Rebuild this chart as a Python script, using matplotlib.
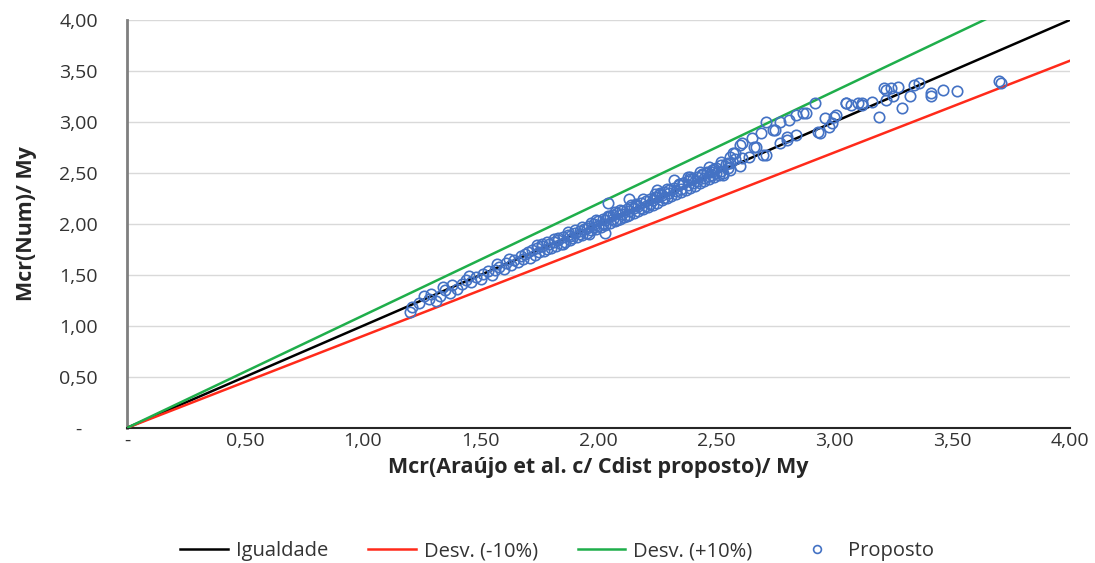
import numpy as np
import matplotlib.pyplot as plt
from matplotlib.ticker import FuncFormatter

# Reference lines (x range and slope factors)
line_x = [0.0, 4.0]
igualdade = [0.0, 4.0]
desv_menos = [0.0, 3.6]
desv_mais = [0.0, 4.4]

# "Proposto" points: Mcr(Araujo)/My vs Mcr(Num)/My
prop_x = [1.20, 1.21, 1.24, 1.28, 1.29, 1.31, 1.33, 1.35, 1.37, 1.38,
          1.40, 1.42, 1.44, 1.46, 1.48, 1.50, 1.51, 1.53, 1.55, 1.56,
          1.58, 1.60, 1.61, 1.63, 1.64, 1.66, 1.67, 1.68, 1.70, 1.71,
          1.72, 1.73, 1.74, 1.75, 1.76, 1.77, 1.78, 1.79, 1.80, 1.81,
          1.82, 1.83, 1.84, 1.85, 1.86, 1.87, 1.88, 1.89, 1.90, 1.91,
          1.92, 1.93, 1.94, 1.95, 1.96, 1.97, 1.98, 1.99, 2.00, 2.01,
          2.02, 2.03, 2.04, 2.05, 2.06, 2.07, 2.08, 2.09, 2.10, 2.11,
          2.12, 2.13, 2.14, 2.15, 2.16, 2.17, 2.18, 2.19, 2.20, 2.21,
          2.22, 2.23, 2.24, 2.25, 2.26, 2.27, 2.28, 2.29, 2.30, 2.31,
          2.32, 2.33, 2.34, 2.35, 2.36, 2.37, 2.38, 2.39, 2.40, 2.41,
          2.42, 2.43, 2.44, 2.45, 2.46, 2.47, 2.48, 2.49, 2.50, 2.51,
          2.52, 2.53, 2.55, 2.56, 2.58, 2.60,
          1.78, 1.85, 1.90, 1.96, 2.00, 2.02, 2.05, 2.08, 2.10, 2.12,
          2.15, 2.18, 2.20, 2.22, 2.25, 2.28, 2.30, 2.35, 2.38, 2.40,
          2.45, 2.48, 2.50, 2.55, 1.88, 1.92, 1.95, 1.98, 2.03, 2.06,
          2.13, 2.17, 2.23, 2.27, 2.33, 2.42, 2.47, 2.52,
          1.74, 1.81, 1.87, 1.93, 1.99, 2.04, 2.09, 2.14, 2.19, 2.24,
          2.29, 2.34, 2.39, 2.44, 2.49, 2.54, 1.69, 1.76, 1.83, 1.97,
          2.07, 2.16, 2.26, 2.36, 2.46, 1.62, 1.57, 1.45, 1.34, 1.26,
          2.04, 2.13, 2.25, 2.32, 2.03, 2.38,
          2.43, 2.47, 2.52, 2.57, 2.61, 2.65, 2.69, 2.74, 2.77, 2.81,
          2.84, 2.88, 2.92, 2.96, 2.98, 2.93, 3.01, 3.05, 3.12, 2.80,
          2.77, 2.71, 2.67, 2.61, 2.56, 2.53, 2.48, 2.39, 2.71,
          2.58, 2.56, 2.64, 2.70, 2.60, 2.66, 2.75, 2.80, 2.84, 2.87,
          2.94, 2.99, 3.00, 3.05, 3.07, 3.10, 3.12, 3.16, 3.19, 3.21,
          3.22, 3.22, 3.24, 3.25, 3.27, 3.29, 3.32, 3.34, 3.36, 3.41,
          3.41, 3.46, 3.52, 3.70, 3.71]
prop_y = [1.14, 1.19, 1.22, 1.26, 1.31, 1.24, 1.29, 1.35, 1.32, 1.40,
          1.36, 1.41, 1.45, 1.43, 1.48, 1.46, 1.51, 1.54, 1.50, 1.55,
          1.58, 1.56, 1.62, 1.60, 1.65, 1.63, 1.69, 1.66, 1.72, 1.67,
          1.74, 1.70, 1.76, 1.72, 1.78, 1.73, 1.75, 1.80, 1.76, 1.82,
          1.78, 1.84, 1.80, 1.87, 1.82, 1.89, 1.84, 1.86, 1.91, 1.87,
          1.93, 1.89, 1.95, 1.91, 1.98, 1.94, 2.00, 1.95, 2.03, 1.97,
          2.05, 1.99, 2.07, 2.01, 2.09, 2.03, 2.11, 2.05, 2.13, 2.07,
          2.15, 2.09, 2.17, 2.11, 2.19, 2.13, 2.21, 2.15, 2.22, 2.17,
          2.24, 2.19, 2.26, 2.21, 2.29, 2.23, 2.31, 2.25, 2.33, 2.27,
          2.35, 2.29, 2.38, 2.31, 2.40, 2.33, 2.42, 2.35, 2.44, 2.37,
          2.46, 2.40, 2.48, 2.42, 2.51, 2.44, 2.53, 2.46, 2.55, 2.48,
          2.58, 2.50, 2.60, 2.53, 2.64, 2.57,
          1.82, 1.80, 1.94, 1.90, 1.98, 2.00, 2.08, 2.04, 2.10, 2.08,
          2.16, 2.16, 2.18, 2.20, 2.26, 2.25, 2.30, 2.34, 2.38, 2.40,
          2.45, 2.48, 2.50, 2.55, 1.88, 1.90, 1.96, 1.97, 2.04, 2.05,
          2.13, 2.18, 2.23, 2.28, 2.32, 2.42, 2.47, 2.52,
          1.79, 1.85, 1.92, 1.97, 2.04, 2.08, 2.14, 2.19, 2.24, 2.29,
          2.34, 2.39, 2.44, 2.49, 2.54, 2.59, 1.71, 1.80, 1.86, 2.01,
          2.12, 2.20, 2.30, 2.40, 2.50, 1.66, 1.61, 1.49, 1.38, 1.29,
          2.21, 2.24, 2.33, 2.43, 1.91, 2.46,
          2.51, 2.56, 2.61, 2.70, 2.79, 2.84, 2.89, 2.92, 3.00, 3.02,
          3.07, 3.09, 3.19, 3.04, 2.95, 2.90, 3.07, 3.19, 3.17, 2.82,
          2.79, 2.68, 2.75, 2.65, 2.60, 2.48, 2.51, 2.46, 3.00,
          2.70, 2.66, 2.66, 2.68, 2.77, 2.75, 2.92, 2.85, 2.87, 3.09,
          2.89, 2.99, 3.05, 3.19, 3.17, 3.19, 3.19, 3.20, 3.05, 3.33,
          3.31, 3.22, 3.33, 3.25, 3.34, 3.14, 3.25, 3.36, 3.38, 3.25,
          3.28, 3.31, 3.30, 3.40, 3.38]

def fmt_x(v, pos):
    if abs(v) < 1e-9:
        return "-"
    return f"{v:.2f}".replace(".", ",")

def fmt_y(v, pos):
    if abs(v) < 1e-9:
        return "-   "
    return f"{v:.2f}".replace(".", ",")

plt.rcParams['font.family'] = ['Open Sans', 'DejaVu Sans']

fig = plt.figure(figsize=(10.95, 5.63), dpi=100)
ax = fig.add_axes([0.116, 0.24, 0.861, 0.7245])

ax.plot(line_x, igualdade, color='black', lw=1.8, label='Igualdade', zorder=3)
ax.plot(line_x, desv_menos, color='#ff2a1a', lw=1.8, label='Desv. (-10%)', zorder=3)
ax.plot(line_x, desv_mais, color='#1fae4b', lw=1.8, label='Desv. (+10%)', zorder=3)
ax.plot(prop_x, prop_y, linestyle='none', marker='o', markersize=7.5,
        markerfacecolor='none', markeredgecolor='#4472c4', markeredgewidth=1.2,
        label='Proposto', zorder=4)

ax.set_xlim(0, 4)
ax.set_ylim(0, 4)
ax.set_xticks(np.arange(0, 4.01, 0.5))
ax.set_yticks(np.arange(0, 4.01, 0.5))
ax.xaxis.set_major_formatter(FuncFormatter(fmt_x))
ax.yaxis.set_major_formatter(FuncFormatter(fmt_y))
ax.tick_params(length=0, labelsize=14, colors='#333333')
ax.tick_params(axis='y', pad=21)
ax.tick_params(axis='x', pad=3)
ax.yaxis.grid(True, color='#d9d9d9', lw=1.0)
ax.set_axisbelow(True)

for s in ['top', 'right']:
    ax.spines[s].set_visible(False)
ax.spines['left'].set_color('#7f7f7f')
ax.spines['left'].set_linewidth(2.0)
ax.spines['bottom'].set_color('#262626')
ax.spines['bottom'].set_linewidth(1.5)

ax.set_xlabel('Mcr(Araújo et al. c/ Cdist proposto)/ My', fontsize=15.5,
              fontweight='bold', color='#262626')
ax.set_ylabel('Mcr(Num)/ My', fontsize=15.5, fontweight='bold',
              color='#262626')
ax.xaxis.set_label_coords(0.5, -0.071)
ax.yaxis.set_label_coords(-0.095, 0.5)

fig.legend(loc='center', bbox_to_anchor=(0.509, 0.021), ncol=4, frameon=False,
           fontsize=14.5, handlelength=2.35, handletextpad=0.4,
           columnspacing=2.0, labelcolor='#333333', markerscale=0.75)

plt.savefig("out.png", dpi=100)
